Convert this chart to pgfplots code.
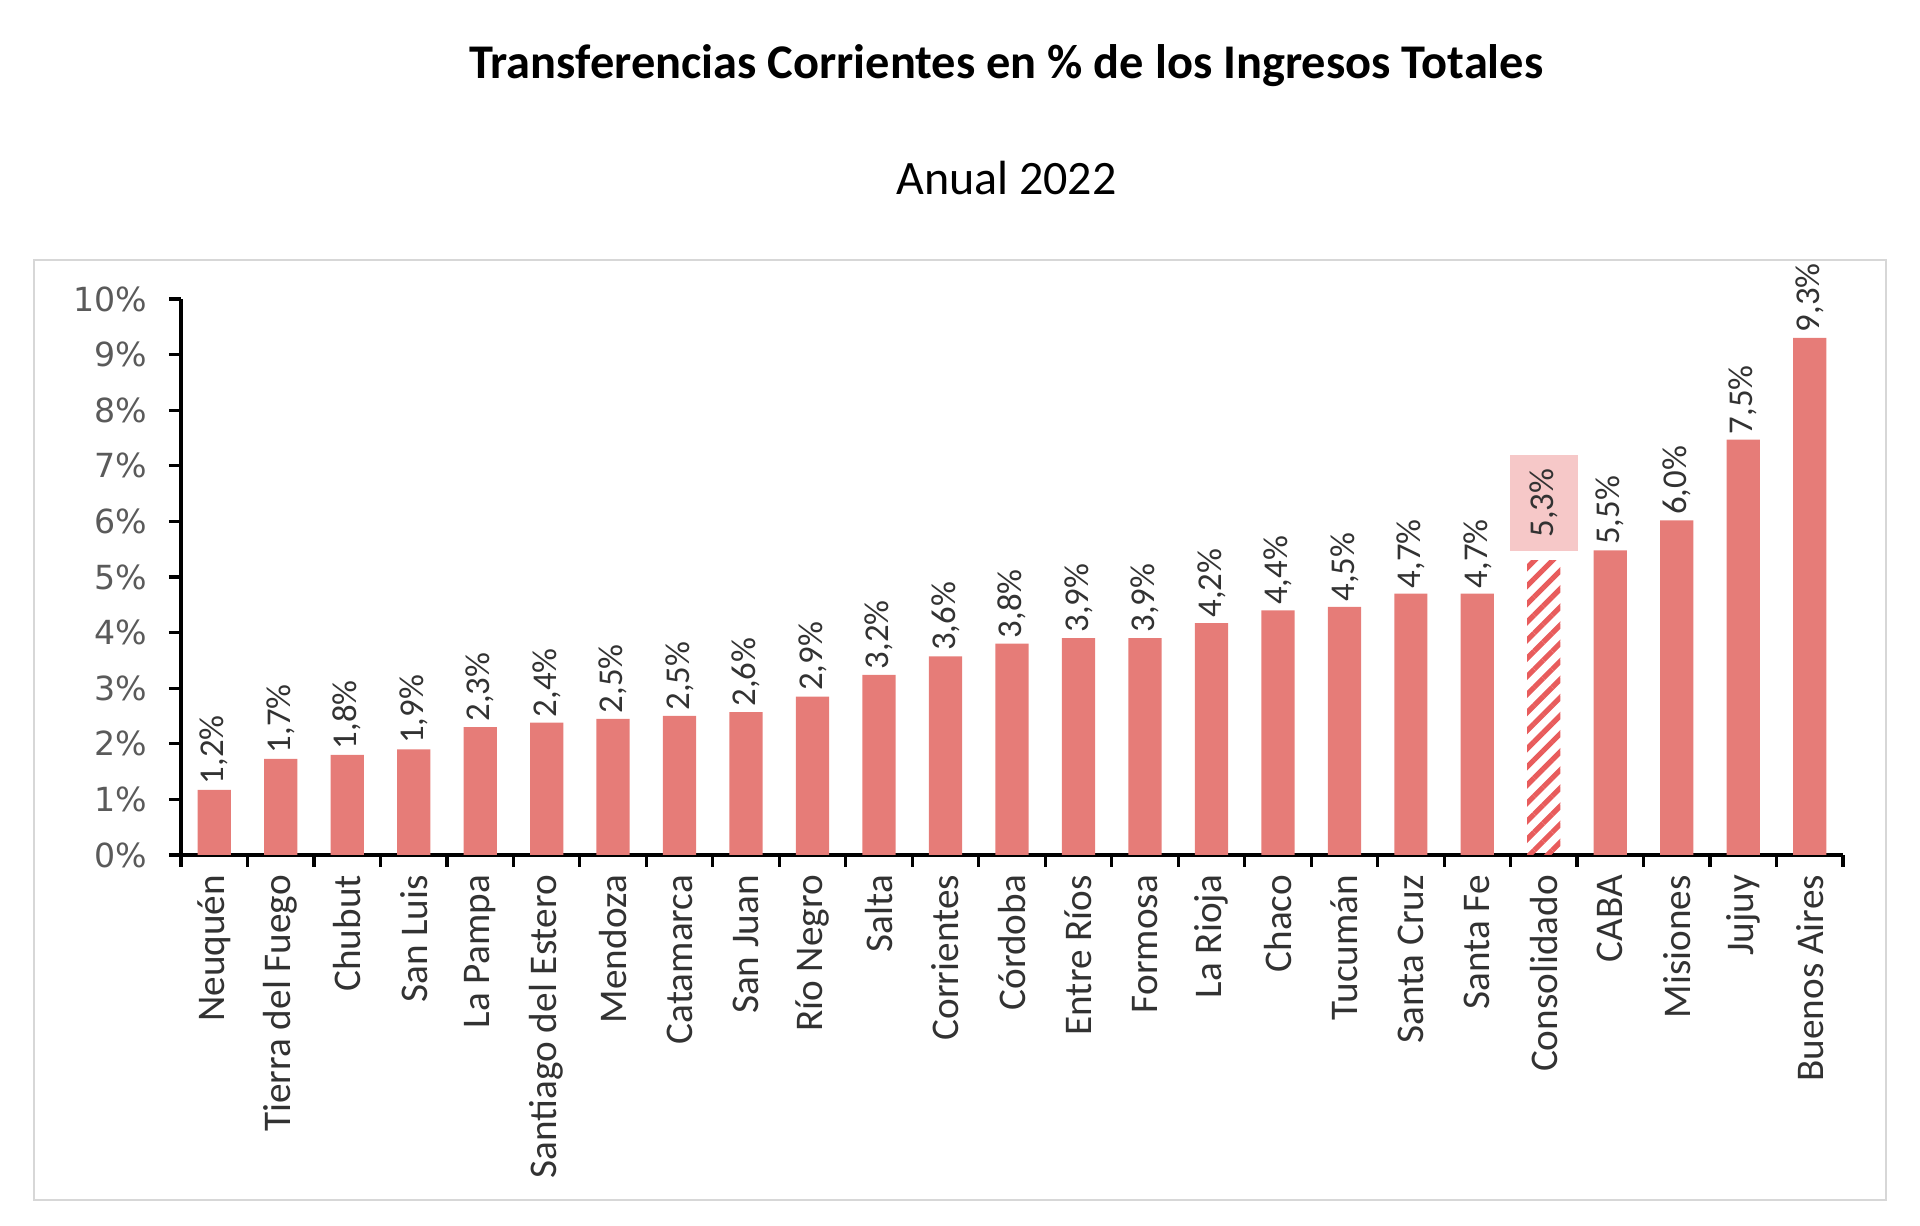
\documentclass[border=0pt]{standalone}
\usepackage{pgfplots}
\pgfplotsset{compat=1.18}
\usepackage{pgfplotstable}
\usepackage{fontspec}
\setmainfont{Carlito}
\newfontfamily\tickfont{DejaVu Sans}
\usetikzlibrary{patterns.meta}
\definecolor{barred}{RGB}{230,124,120}
\definecolor{hatchred}{RGB}{232,92,92}
\definecolor{boxpink}{RGB}{246,200,200}
\definecolor{ticktext}{RGB}{90,90,90}
\definecolor{labtext}{RGB}{50,50,50}
\definecolor{framegray}{RGB}{215,215,215}

\pgfplotstableread{
x y v
0 1.17 1.2
1 1.73 1.7
2 1.80 1.8
3 1.90 1.9
4 2.30 2.3
5 2.38 2.4
6 2.45 2.5
7 2.50 2.5
8 2.57 2.6
9 2.85 2.9
10 3.24 3.2
11 3.57 3.6
12 3.80 3.8
13 3.90 3.9
14 3.90 3.9
15 4.17 4.2
16 4.40 4.4
17 4.46 4.5
18 4.70 4.7
19 4.70 4.7
21 5.48 5.5
22 6.02 6.0
23 7.47 7.5
24 9.30 9.3
}\data

\pgfplotstableread{
x y v
20 5.30 5.3
}\cons

\begin{document}
\begin{tikzpicture}
\useasboundingbox (0,0) rectangle (480pt,306.5pt);
\draw[framegray, line width=0.6pt] (8.5pt,6.5pt) rectangle (471.5pt,241.5pt);
\node[font=\fontsize{12.1pt}{14pt}\selectfont\bfseries] at (251.6pt,290.2pt) {Transferencias Corrientes en \% de los Ingresos Totales};
\node[font=\fontsize{12pt}{14pt}\selectfont] at (251.6pt,262pt) {Anual 2022};
\begin{axis}[
  at={(45.25pt,92.75pt)}, anchor=south west,
  width=415.5pt, height=139pt, scale only axis,
  xmin=-0.5, xmax=24.5, ymin=0, ymax=10,
  /pgf/number format/assume math mode=true,
  axis lines*=left,
  axis line style={black, line width=0.8pt},
  tick align=outside,
  major tick length=3pt, minor tick length=3pt,
  ytick={0,1,...,10},
  yticklabel={\pgfmathprintnumber{\tick}\%},
  y tick label style={font=\tickfont\fontsize{8.3pt}{10pt}\selectfont, color=ticktext, xshift=-2pt},
  y tick style={black, line width=0.8pt},
  xtick={0,1,...,24},
  major x tick style={draw=none},
  minor xtick={-0.5,0.5,...,24.5},
  minor x tick style={black, line width=0.8pt},
  xticklabels={Neuquén, Tierra del Fuego, Chubut, San Luis, La Pampa, Santiago del Estero, Mendoza, Catamarca, San Juan, Río Negro, Salta, Corrientes, Córdoba, Entre Ríos, Formosa, La Rioja, Chaco, Tucumán, Santa Cruz, Santa Fe, Consolidado, CABA, Misiones, Jujuy, Buenos Aires},
  x tick label style={rotate=90, anchor=east, font=\rmfamily\fontsize{9.8pt}{11pt}\selectfont, color=labtext},
  xticklabel shift=-1.5pt,
  clip=false,
]
\addplot[ybar, bar width=0.5, bar shift=0pt, fill=barred, draw=none,
  point meta=explicit,
  nodes near coords={\pgfmathprintnumber[fixed, fixed zerofill, precision=1, use comma]{\pgfplotspointmeta}\%},
  nodes near coords style={rotate=90, anchor=west, font=\rmfamily\fontsize{8.7pt}{10pt}\selectfont, color=labtext, inner sep=1.2pt}]
  table[x=x, y=y, meta=v]{\data};
\addplot[ybar, bar width=0.5, bar shift=0pt, draw=none,
  pattern={Lines[angle=45, distance=3.2pt, line width=1.3pt]}, pattern color=hatchred,
  point meta=explicit,
  nodes near coords={\pgfmathprintnumber[fixed, fixed zerofill, precision=1, use comma]{\pgfplotspointmeta}\%},
  nodes near coords style={yshift=2pt, rotate=90, anchor=west, font=\rmfamily\fontsize{8.7pt}{10pt}\selectfont, color=labtext, fill=boxpink, inner xsep=3.5pt, inner ysep=3pt, minimum height=17pt}]
  table[x=x, y=y, meta=v]{\cons};
\end{axis}
\end{tikzpicture}
\end{document}
